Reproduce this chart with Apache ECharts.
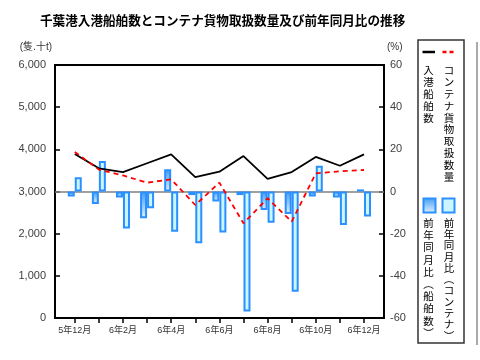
<!DOCTYPE html>
<html>
<head>
<meta charset="utf-8">
<script src="https://cdn.jsdelivr.net/npm/echarts@6/dist/echarts.min.js"></script>
<style>html,body{margin:0;padding:0;background:#fff;}#c{width:480px;height:360px;}</style>
</head>
<body>
<div id="c"></div>
<script>
// ---- data ----
var categories = ['5年12月','6年1月','6年2月','6年3月','6年4月','6年5月','6年6月','6年7月','6年8月','6年9月','6年10月','6年11月','6年12月'];
var ships = [3890, 3550, 3460, 3670, 3880, 3340, 3470, 3840, 3300, 3460, 3820, 3610, 3880];
var container = [3940, 3520, 3380, 3210, 3290, 2680, 3210, 2245, 2840, 2285, 3430, 3480, 3510];
var shipsYoY = [-2.4, -5.9, -2.9, -12.7, 10.5, -1.7, -4.8, -1.7, -8.8, -10.7, -2.4, -2.8, 1.0];
var containerYoY = [6.7, 14.5, -17.5, -8.0, -19.1, -24.6, -19.4, -56.9, -14.8, -47.5, 12.2, -15.9, -11.9];
var leftTicks = [0, 1000, 2000, 3000, 4000, 5000, 6000];
var rightTicks = [-60, -40, -20, 0, 20, 40, 60];

var FONT = "'Liberation Sans', 'Noto Sans CJK JP', sans-serif";
var CJK = "'Noto Sans CJK JP', sans-serif";

function pairs(arr){ return arr.map(function(v,i){ return [i, v]; }); }
var idx = categories.map(function(c,i){ return i; });
var labelIdx = idx.filter(function(i){ return i % 2 === 0; });

var chart = echarts.init(document.getElementById('c'), null, {renderer:'canvas'});
var darkFill = new echarts.graphic.LinearGradient(0,0,0,1,[{offset:0,color:'#3f9cf5'},{offset:1,color:'#e4f2ff'}]);
var lightFill = '#ccf6ff';
var barBorder = '#2a90ff';

function vtext(s){ return s.split('').join('\n'); }

var option = {
  animation: false,
  backgroundColor: '#ffffff',
  title: {
    text: '千葉港入港船舶数とコンテナ貨物取扱数量及び前年同月比の推移',
    left: 40, top: 14, padding: 0,
    textStyle: {fontFamily: CJK, fontSize: 12.6, fontWeight: 'bold', color: '#000'}
  },
  grid: {left: 55, right: 96, top: 65, bottom: 42, show: true, borderColor: '#000', borderWidth: 2, backgroundColor: 'transparent'},
  xAxis: {
    type: 'value', min: -0.82, max: 12.83,
    axisLine: {show: true, onZero: false, lineStyle: {color: '#000', width: 2}},
    axisTick: {show: true, customValues: idx, inside: false, length: 5, lineStyle: {color: '#000', width: 1.5}},
    axisLabel: {customValues: labelIdx, formatter: function(v){ return categories[Math.round(v)]; }, fontFamily: FONT, fontSize: 9, color: '#333', margin: 8},
    splitLine: {show: false}
  },
  yAxis: [
    {
      type: 'value', min: leftTicks[0], max: leftTicks[leftTicks.length-1], interval: 1000,
      name: '(隻.十t)', nameLocation: 'end', nameGap: 13,
      nameTextStyle: {fontFamily: FONT, fontSize: 10, color: '#333', align: 'right', padding: [0, 3, 0, 0]},
      axisLine: {show: true, onZero: false, lineStyle: {color: '#000', width: 2}},
      axisTick: {show: true, inside: true, length: 5, lineStyle: {color: '#000', width: 1.5}},
      axisLabel: {fontFamily: FONT, fontSize: 11, color: '#404040', margin: 9, formatter: function(v){ return v.toLocaleString('en-US'); }},
      splitLine: {show: false}
    },
    {
      type: 'value', min: rightTicks[0], max: rightTicks[rightTicks.length-1], interval: 20, position: 'right',
      name: '(%)', nameLocation: 'end', nameGap: 13,
      nameTextStyle: {fontFamily: FONT, fontSize: 10, color: '#333', align: 'left', padding: [0, 0, 0, 3]},
      axisLine: {show: true, onZero: false, lineStyle: {color: '#000', width: 2}},
      axisTick: {show: true, inside: true, length: 5, lineStyle: {color: '#000', width: 1.5}},
      axisLabel: {fontFamily: FONT, fontSize: 11, color: '#404040', margin: 6},
      splitLine: {show: false}
    }
  ],
  series: [
    {
      name: '前年同月比（船舶数）', type: 'bar', yAxisIndex: 1, data: pairs(shipsYoY),
      barWidth: 7, barGap: '0%', z: 3,
      itemStyle: {color: darkFill, borderColor: barBorder, borderWidth: 2},
      markLine: {silent: true, symbol: ['none','none'], label: {show: false}, animation: false,
        lineStyle: {color: '#808080', width: 1.5, type: 'solid'}, data: [{yAxis: 0}], z: 2}
    },
    {
      name: '前年同月比（コンテナ）', type: 'bar', yAxisIndex: 1, data: pairs(containerYoY),
      barWidth: 7, barGap: '0%', z: 3,
      itemStyle: {color: lightFill, borderColor: barBorder, borderWidth: 2}
    },
    {
      name: '入港船舶数', type: 'line', yAxisIndex: 0, data: pairs(ships), z: 5,
      symbol: 'none', lineStyle: {color: '#000', width: 1.8}
    },
    {
      name: 'コンテナ貨物取扱数量', type: 'line', yAxisIndex: 0, data: pairs(container), z: 6,
      symbol: 'none', lineStyle: {color: '#ff0000', width: 1.8, type: [5, 4]}
    }
  ],
  graphic: [
    {type: 'rect', shape: {x: 418, y: 40, width: 46, height: 303}, style: {fill: 'none', stroke: '#333', lineWidth: 1.5}, z: 10},
    {type: 'line', shape: {x1: 422.5, y1: 52, x2: 435, y2: 52}, style: {stroke: '#000', lineWidth: 2.5}, z: 10},
    {type: 'line', shape: {x1: 442.5, y1: 52, x2: 456, y2: 52}, style: {stroke: '#ff0000', lineWidth: 2.5, lineDash: [4, 3]}, z: 10},
    {type: 'text', x: 428.5, y: 64, z: 10, style: {text: vtext('入港船舶数'), fontFamily: CJK, fontSize: 10.5, lineHeight: 12, fill: '#000', align: 'center'}},
    {type: 'text', x: 449, y: 64, z: 10, style: {text: vtext('コンテナ貨物取扱数量'), fontFamily: CJK, fontSize: 10.5, lineHeight: 11.9, fill: '#000', align: 'center'}},
    {type: 'rect', shape: {x: 423.5, y: 198.5, width: 12, height: 14}, style: {fill: new echarts.graphic.LinearGradient(0,0,0,1,[{offset:0,color:'#3f9cf5'},{offset:1,color:'#e4f2ff'}]), stroke: barBorder, lineWidth: 2}, z: 10},
    {type: 'rect', shape: {x: 442.5, y: 198.5, width: 12, height: 14}, style: {fill: lightFill, stroke: barBorder, lineWidth: 2}, z: 10},
    {type: 'text', x: 428.5, y: 217, z: 10, style: {text: vtext('前年同月比︵船舶数︶'), fontFamily: CJK, fontSize: 10.5, lineHeight: 12.2, fill: '#000', align: 'center'}},
    {type: 'text', x: 449, y: 217, z: 10, style: {text: vtext('前年同月比︵コンテナ︶'), fontFamily: CJK, fontSize: 10.5, lineHeight: 11.3, fill: '#000', align: 'center'}},
    {type: 'line', shape: {x1: 477, y1: 42, x2: 477, y2: 345}, style: {stroke: '#555', lineWidth: 1}, z: 10}
  ]
};
chart.setOption(option);
</script>
</body>
</html>
